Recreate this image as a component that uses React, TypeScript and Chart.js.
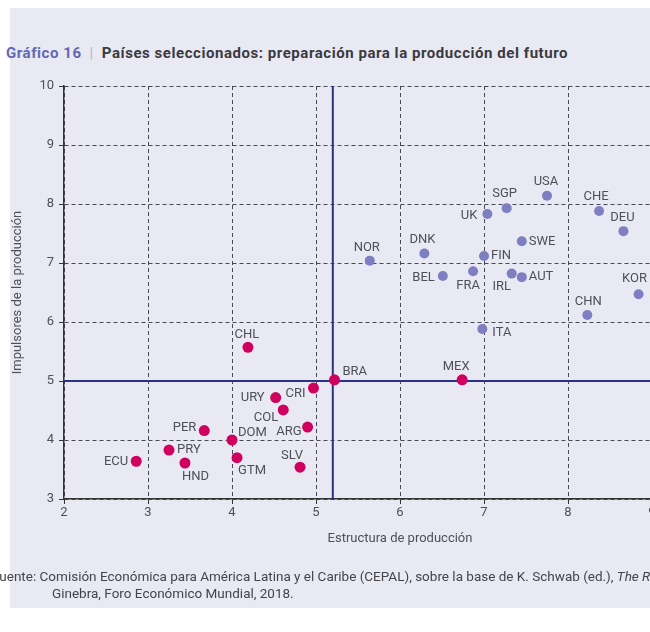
import React, { useEffect, useRef } from "react";
import { Chart, registerables } from "chart.js";

Chart.register(...registerables);

// ---------- data ----------
const LATAM_CODES = ["CHL", "BRA", "MEX", "CRI", "URY", "COL", "ARG", "PER", "DOM", "PRY", "ECU", "HND", "GTM", "SLV"];
const LATAM_X = [4.19, 5.22, 6.74, 4.97, 4.52, 4.61, 4.9, 3.67, 4.0, 3.25, 2.86, 3.44, 4.06, 4.81];
const LATAM_Y = [5.57, 5.02, 5.02, 4.88, 4.72, 4.51, 4.22, 4.16, 4.0, 3.83, 3.64, 3.61, 3.7, 3.54];

const OTHER_CODES = ["USA", "SGP", "UK", "CHE", "DEU", "SWE", "DNK", "NOR", "FIN", "BEL", "FRA", "IRL", "AUT", "KOR", "CHN", "ITA"];
const OTHER_X = [7.75, 7.27, 7.04, 8.37, 8.66, 7.45, 6.29, 5.64, 7.0, 6.51, 6.87, 7.33, 7.45, 8.84, 8.23, 6.98];
const OTHER_Y = [8.14, 7.93, 7.83, 7.88, 7.54, 7.37, 7.16, 7.04, 7.12, 6.78, 6.86, 6.82, 6.76, 6.47, 6.12, 5.88];

const X_TICKS = [2, 3, 4, 5, 6, 7, 8, 9, 10];
const Y_TICKS = [3, 4, 5, 6, 7, 8, 9, 10];
const X_THRESHOLD = 5.2;
const Y_THRESHOLD = 5;

const X_TITLE = "Estructura de producción";
const Y_TITLE = "Impulsores de la producción";

// ---------- label placement (style, not data): [dx, dy, align] ----------
const LABEL_PLACEMENT: Record<string, [number, number, CanvasTextAlign]> = {
  USA: [-1, -14, "center"],
  SGP: [-2, -14, "center"],
  UK: [-10, 2, "right"],
  CHE: [-3, -14, "center"],
  DEU: [-1, -13, "center"],
  SWE: [7, 1, "left"],
  DNK: [-2, -14, "center"],
  NOR: [-3, -13, "center"],
  FIN: [7, 0, "left"],
  BEL: [-8, 2, "right"],
  FRA: [-5, 14, "center"],
  IRL: [-10, 13, "center"],
  AUT: [7, 0, "left"],
  KOR: [-4, -16, "center"],
  CHN: [1, -13, "center"],
  ITA: [10, 4, "left"],
  CHL: [-1, -13, "center"],
  BRA: [8, -8, "left"],
  MEX: [-6, -13, "center"],
  CRI: [-8, 6, "right"],
  URY: [-11, 0, "right"],
  COL: [-5, 8, "right"],
  ARG: [-6, 5, "right"],
  PER: [-8, -3, "right"],
  DOM: [6, -7, "left"],
  PRY: [8, 0, "left"],
  ECU: [-8, 1, "right"],
  HND: [-3, 14, "left"],
  GTM: [1, 13, "left"],
  SLV: [-8, -11, "center"],
};

const MAGENTA = "#d1005f";
const LAVENDER = "#7e7fc1";
const NAVY = "#2e3087";
const GRID = "rgba(55,55,65,0.9)";
const TEXT = "#4f4f58";
const PANEL = "#e9e9f4";

const labelPlugin = {
  id: "countryLabels",
  afterDatasetsDraw(chart: any) {
    const ctx = chart.ctx;
    ctx.save();
    ctx.font = "13px Roboto";
    ctx.fillStyle = TEXT;
    ctx.textBaseline = "middle";
    chart.data.datasets.forEach((ds: any, i: number) => {
      if (!ds.codes) return;
      const meta = chart.getDatasetMeta(i);
      meta.data.forEach((el: any, j: number) => {
        const code = ds.codes[j];
        const p = LABEL_PLACEMENT[code] || [8, 0, "left"];
        ctx.textAlign = p[2];
        ctx.fillText(code, el.x + p[0], el.y + p[1]);
      });
    });
    ctx.restore();
  },
};

export default function App() {
  const ref = useRef<HTMLCanvasElement | null>(null);

  useEffect(() => {
    if (!ref.current) return;
    const chart = new Chart(ref.current, {
      type: "scatter",
      data: {
        datasets: [
          {
            label: "América Latina",
            codes: LATAM_CODES,
            data: LATAM_X.map((x, i) => ({ x, y: LATAM_Y[i] })),
            backgroundColor: MAGENTA,
            borderColor: MAGENTA,
            pointRadius: 5.5,
            borderWidth: 0,
            order: 0,
          } as any,
          {
            label: "Otros",
            codes: OTHER_CODES,
            data: OTHER_X.map((x, i) => ({ x, y: OTHER_Y[i] })),
            backgroundColor: LAVENDER,
            borderColor: LAVENDER,
            pointRadius: 5,
            borderWidth: 0,
            order: 0,
          } as any,
          {
            type: "line",
            label: "umbral x",
            data: [
              { x: X_THRESHOLD, y: Y_TICKS[0] },
              { x: X_THRESHOLD, y: Y_TICKS[Y_TICKS.length - 1] },
            ],
            borderColor: NAVY,
            borderWidth: 2,
            pointRadius: 0,
            showLine: true,
            order: 2,
          } as any,
          {
            type: "line",
            label: "umbral y",
            data: [
              { x: X_TICKS[0], y: Y_THRESHOLD },
              { x: X_TICKS[X_TICKS.length - 1], y: Y_THRESHOLD },
            ],
            borderColor: NAVY,
            borderWidth: 2,
            pointRadius: 0,
            showLine: true,
            order: 2,
          } as any,
        ],
      },
      options: {
        animation: false,
        responsive: false,
        maintainAspectRatio: false,
        layout: { padding: { left: 0, top: 86, right: 24, bottom: 83 } },
        plugins: {
          legend: { display: false },
          tooltip: { enabled: false },
        },
        scales: {
          x: {
            type: "linear",
            min: X_TICKS[0],
            max: X_TICKS[X_TICKS.length - 1],
            afterBuildTicks: (s: any) => {
              s.ticks = X_TICKS.map((v) => ({ value: v }));
            },
            afterFit: (s: any) => {
              s.height = 50;
            },
            grid: {
              color: GRID,
              lineWidth: 1,
              drawTicks: true,
              tickLength: 5,
              tickColor: "#333",
            },
            border: { display: true, color: "#333", width: 1.5, dash: [4, 3] },
            ticks: {
              color: TEXT,
              font: { family: "Roboto", size: 13 },
              padding: 1,
              maxRotation: 0,
            },
            title: {
              display: true,
              text: X_TITLE,
              color: TEXT,
              font: { family: "Roboto", size: 13 },
              padding: { top: 0, bottom: 2 },
            },
          },
          y: {
            type: "linear",
            min: Y_TICKS[0],
            max: Y_TICKS[Y_TICKS.length - 1],
            afterBuildTicks: (s: any) => {
              s.ticks = Y_TICKS.map((v) => ({ value: v }));
            },
            afterFit: (s: any) => {
              s.width = 64;
            },
            grid: {
              color: GRID,
              lineWidth: 1,
              drawTicks: true,
              tickLength: 5,
              tickColor: "#333",
            },
            border: { display: true, color: "#333", width: 1.5, dash: [4, 3] },
            ticks: {
              color: TEXT,
              font: { family: "Roboto", size: 13 },
              padding: 5,
            },
            title: {
              display: true,
              text: Y_TITLE,
              color: TEXT,
              font: { family: "Roboto", size: 13 },
              padding: { top: 10, bottom: 0 },
            },
          },
        },
      } as any,
      plugins: [labelPlugin],
    });
    return () => chart.destroy();
  }, []);

  return (
    <div
      style={{
        position: "absolute",
        left: 0,
        top: 0,
        width: 650,
        height: 632,
        overflow: "hidden",
        background: "#ffffff",
        fontFamily: "Roboto, sans-serif",
      }}
    >
      <div
        style={{
          position: "absolute",
          left: 10,
          top: 8,
          width: 640,
          height: 600,
          background: PANEL,
        }}
      />
      <div
        style={{
          position: "absolute",
          left: 6,
          top: 44,
          whiteSpace: "nowrap",
          fontSize: 15,
          lineHeight: "18px",
          fontWeight: 700,
          letterSpacing: "0.55px",
        }}
      >
        <span style={{ color: "#6268b4" }}>Gráfico 16</span>
        <span style={{ color: "#b8b8c4", fontWeight: 400, margin: "0 8px" }}>|</span>
        <span style={{ color: "#3a3a3f" }}>
          Países seleccionados: preparación para la producción del futuro
        </span>
      </div>
      <canvas
        ref={ref}
        width={760}
        height={632}
        style={{ position: "absolute", left: 0, top: 0, width: 760, height: 632 }}
      />
      <div
        style={{
          position: "absolute",
          left: -8,
          top: 568,
          whiteSpace: "nowrap",
          fontSize: 13.5,
          lineHeight: "16px",
          color: "#444449",
        }}
      >
        Fuente: Comisión Económica para América Latina y el Caribe (CEPAL), sobre la base de K. Schwab (ed.),{" "}
        <i>The Readiness for the Future of Production Report 2018</i>,
      </div>
      <div
        style={{
          position: "absolute",
          left: 52,
          top: 585,
          whiteSpace: "nowrap",
          fontSize: 13.5,
          lineHeight: "16px",
          color: "#444449",
        }}
      >
        Ginebra, Foro Económico Mundial, 2018.
      </div>
    </div>
  );
}
